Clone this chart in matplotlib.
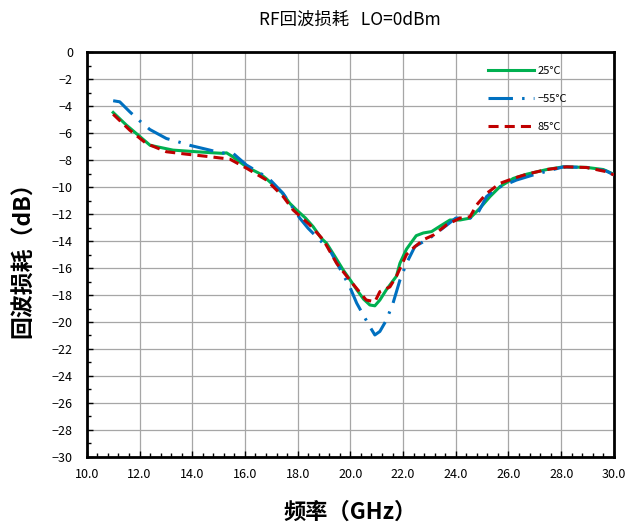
import matplotlib
matplotlib.use("Agg")
import matplotlib.pyplot as plt
from matplotlib.ticker import MultipleLocator, FuncFormatter

plt.rcParams['font.family'] = ['Noto Sans CJK SC', 'DejaVu Sans']
plt.rcParams['axes.unicode_minus'] = True

# 25°C
freq_25 = [11.0, 11.5, 11.95, 12.4, 13.27, 14.16, 14.7, 15.17, 15.3, 15.5, 16.06, 16.56,
           16.8, 17.4, 17.7, 17.96, 18.3, 18.59, 18.9, 19.1, 19.4, 19.73, 20.0, 20.24,
           20.5, 20.74, 20.93, 21.12, 21.37, 21.75, 21.88, 22.13, 22.5, 22.77, 23.08,
           23.4, 23.78, 24.16, 24.54, 24.9, 25.3, 25.67, 26.18, 26.7, 27.45, 28.08,
           28.96, 29.6, 30.0]
rl_25 = [-4.47, -5.4, -6.15, -6.9, -7.26, -7.38, -7.45, -7.5, -7.46, -7.7, -8.5, -9.0,
         -9.36, -10.4, -11.2, -11.7, -12.3, -12.94, -13.8, -14.17, -15.1, -16.15, -16.9,
         -17.6, -18.3, -18.74, -18.8, -18.37, -17.6, -16.6, -15.65, -14.6, -13.6, -13.4,
         -13.3, -12.9, -12.44, -12.44, -12.3, -11.6, -10.7, -9.98, -9.36, -9.04, -8.7,
         -8.5, -8.54, -8.7, -9.05]

# -55°C
freq_m55 = [11.0, 11.25, 11.63, 12.0, 12.39, 13.02, 13.46, 13.9, 14.67, 15.1, 15.55,
            16.06, 16.56, 16.94, 17.45, 18.08, 18.4, 19.22, 19.98, 20.24, 20.49, 20.74,
            20.93, 21.12, 21.37, 21.62, 21.88, 22.13, 22.45, 23.0, 23.5, 24.0, 24.54,
            24.8, 25.17, 25.55, 26.3, 26.94, 28.08, 29.0, 29.7, 30.0]
rl_m55 = [-3.6, -3.68, -4.42, -5.08, -5.73, -6.4, -6.64, -6.9, -7.26, -7.46, -7.5,
          -8.37, -8.94, -9.43, -10.47, -12.3, -13.06, -14.67, -17.4, -18.6, -19.48,
          -20.35, -20.96, -20.7, -19.85, -18.6, -16.9, -15.65, -14.4, -13.8, -13.06,
          -12.3, -12.3, -12.07, -10.7, -10.1, -9.48, -9.1, -8.5, -8.55, -8.8, -9.1]

# 85°C
freq_85 = [11.0, 11.63, 12.26, 13.02, 13.78, 14.67, 15.43, 16.06, 16.82, 17.45, 17.83,
           18.46, 18.97, 19.48, 19.98, 20.6, 20.93, 21.12, 21.5, 21.75, 22.13, 22.4,
           22.77, 23.15, 23.65, 24.16, 24.54, 24.8, 25.17, 25.67, 26.18, 26.7, 27.45,
           28.2, 28.96, 29.72, 30.0]
rl_85 = [-4.6, -5.78, -6.77, -7.38, -7.56, -7.75, -7.93, -8.6, -9.48, -10.7, -11.7,
         -12.8, -13.9, -15.65, -16.9, -18.37, -18.5, -17.75, -17.4, -16.6, -15.0, -14.5,
         -13.9, -13.56, -12.8, -12.3, -12.2, -11.3, -10.47, -9.73, -9.36, -9.04, -8.7,
         -8.5, -8.55, -8.86, -9.1]

fig = plt.figure(figsize=(6.29, 5.27), dpi=100)
ax = fig.add_axes([0.138, 0.133, 0.838, 0.768])

ax.plot(freq_25, rl_25, color='#00B050', lw=2.2, label='25°C', zorder=3)
ax.plot(freq_m55, rl_m55, color='#0070C0', lw=2.2, dashes=(8, 3, 0.8, 3),
        label='−55°C', zorder=3)
ax.plot(freq_85, rl_85, color='#C00000', lw=2.2, dashes=(3.3, 2),
        label='85°C', zorder=3)

ax.set_xlim(10, 30)
ax.set_ylim(-30, 0)
ax.xaxis.set_major_locator(MultipleLocator(2))
ax.xaxis.set_minor_locator(MultipleLocator(0.4))
ax.yaxis.set_major_locator(MultipleLocator(2))
ax.yaxis.set_minor_locator(MultipleLocator(1))
ax.xaxis.set_major_formatter(FuncFormatter(lambda v, p: f'{v:.1f}'))
ax.yaxis.set_major_formatter(FuncFormatter(lambda v, p: f'{v:.0f}'.replace('-', '−')))

ax.grid(True, which='major', color='#a6a6a6', lw=0.9, zorder=1)
ax.tick_params(which='both', direction='in', labelsize=9, color='black')
ax.tick_params(which='major', length=4, width=1)
ax.tick_params(which='minor', length=3, width=1)
ax.tick_params(axis='y', which='major', pad=10)
ax.tick_params(axis='x', which='major', pad=8)
for s in ax.spines.values():
    s.set_linewidth(2)
    s.set_color('black')

ax.set_title('RF回波损耗   LO=0dBm', fontsize=12.5, pad=20)
ax.set_xlabel('频率（GHz）', fontsize=16, fontweight='bold', labelpad=14)
ax.set_ylabel('回波损耗（dB）', fontsize=16.5, fontweight='bold', labelpad=12)

ax.legend(loc='upper right', bbox_to_anchor=(0.93, 0.99), frameon=False, fontsize=8,
          handlelength=4.2, handletextpad=0.3, labelspacing=1.6)

fig.savefig('out.png', dpi=100)
